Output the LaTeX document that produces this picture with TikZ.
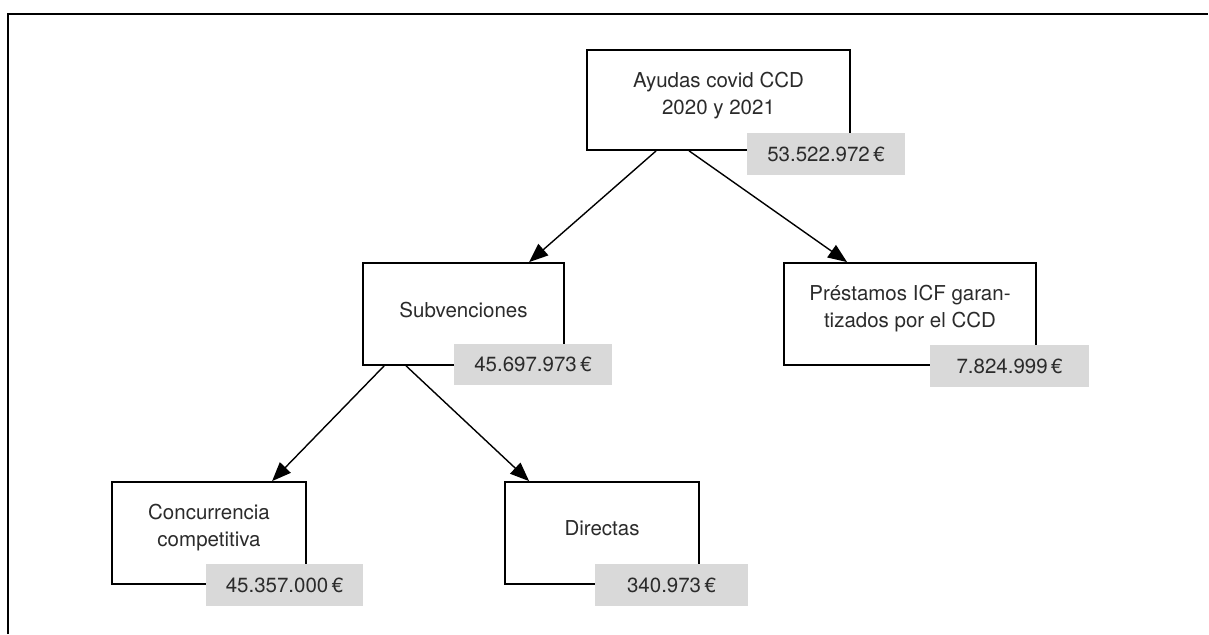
\documentclass[tikz,border=0pt]{standalone}
\usepackage{fontspec}
\setmainfont{TeX Gyre Heros}
\usetikzlibrary{arrows.meta,calc}
\definecolor{labgray}{HTML}{D9D9D9}
\definecolor{txt}{HTML}{2B2B2B}
\tikzset{
  box/.style={draw=black, line width=1.8pt, fill=white, inner sep=0pt, text=txt,
    align=center, font=\fontsize{20.5}{27}\selectfont},
  amount/.style={fill=labgray, inner sep=0pt, text=txt,
    font=\fontsize{20.5}{27}\selectfont},
  arr/.style={line width=1.4pt, -{Triangle[length=19pt,width=15pt]}},
}
\begin{document}
\begin{tikzpicture}[x=1pt,y=-1pt]
\useasboundingbox (0,0) rectangle (1209,634);
\draw[line width=2.2pt] (8,634) -- (8,14) -- (1208,14);
% boxes
\node[box, minimum width=263pt, minimum height=100pt] (top) at (718.5,100) {};
\node[box, minimum width=201pt, minimum height=102pt] (sub) at (463.5,314) {};
\node[box, minimum width=252pt, minimum height=102pt] (pre) at (910,314) {};
\node[box, minimum width=194pt, minimum height=102pt] (con) at (209,533) {};
\node[box, minimum width=194pt, minimum height=102pt] (dir) at (602,533) {};
% texts
\node[box, draw=none, fill=none] (toptxt) at (718.5,96) {Ayudas covid CCD\\2020 y 2021};
\node[box, draw=none, fill=none] (subtxt) at (463.5,310) {Subvenciones};
\node[box, draw=none, fill=none] (pretxt) at (910,309) {Préstamos ICF garan-\\tizados por el CCD};
\node[box, draw=none, fill=none] (contxt) at (209,528) {Concurrencia\\competitiva};
\node[box, draw=none, fill=none] (dirtxt) at (602,528) {Directas};
% amounts
\node[amount, minimum width=158pt, minimum height=42pt] (g1) at (826,154) {53.522.972\,€};
\node[amount, minimum width=158pt, minimum height=41pt] (g2) at (533,364.5) {45.697.973\,€};
\node[amount, minimum width=159pt, minimum height=42pt] (g3) at (1009.5,366) {7.824.999\,€};
\node[amount, minimum width=157pt, minimum height=42pt] (g4) at (284.5,585) {45.357.000\,€};
\node[amount, minimum width=153pt, minimum height=42pt] (g5) at (671.5,585) {340.973\,€};
% arrows
\draw[arr] ($(top.south west)+(70,0)$) -- ($(sub.north west)+(167,0)$);
\draw[arr] ($(top.south west)+(103,0)$) -- ($(pre.north west)+(64,0)$);
\draw[arr] ($(sub.south west)+(22,0)$) -- ($(con.north west)+(161,0)$);
\draw[arr] ($(sub.south west)+(44,0)$) -- ($(dir.north west)+(25,0)$);
\end{tikzpicture}
\end{document}
